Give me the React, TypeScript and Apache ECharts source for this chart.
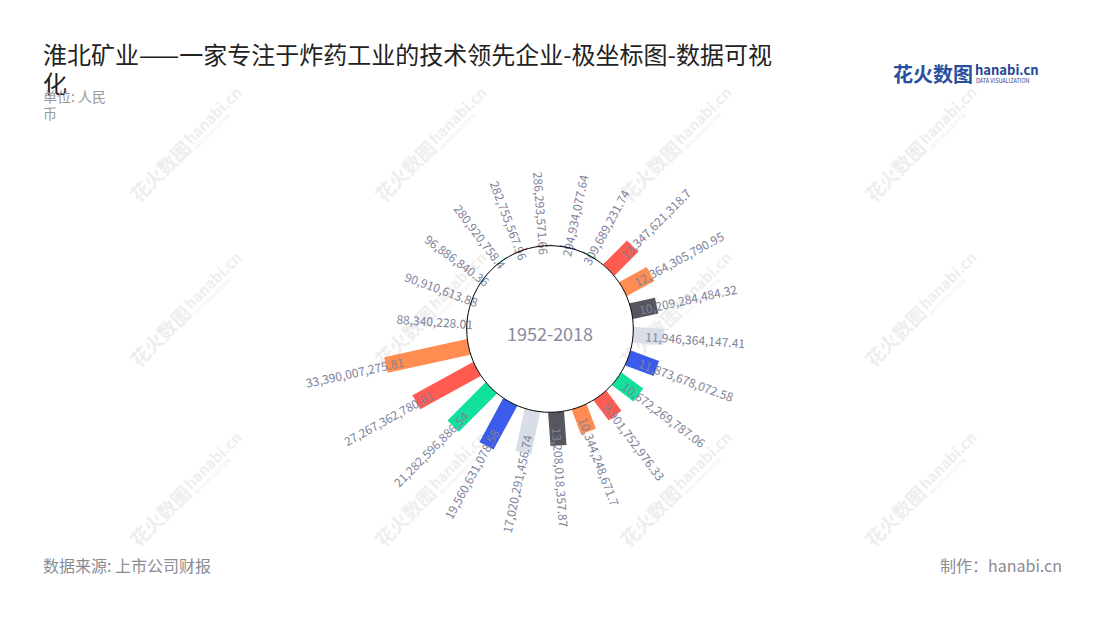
import React, { useEffect, useRef } from 'react';
import * as echarts from 'echarts';

const TITLE = '淮北矿业——一家专注于炸药工业的技术领先企业-极坐标图-数据可视化';
const SUBTITLE = '单位: 人民币';
const CENTER_LABEL = '1952-2018';
const SOURCE = '数据来源: 上市公司财报';
const AUTHOR = '制作：hanabi.cn';

const categories = [
  'c01', 'c02', 'c03', 'c04', 'c05', 'c06', 'c07', 'c08', 'c09', 'c10', 'c11',
  'c12', 'c13', 'c14', 'c15', 'c16', 'c17', 'c18', 'c19', 'c20', 'c21', 'c22',
];
const values = [
  294934077.64, 309689231.74, 13347621318.7, 12364305790.95, 10209284484.32,
  11946364147.41, 11873678072.58, 10672269787.06, 9901752976.33, 10344248671.7,
  13208018357.87, 17020291456.74, 19560631078.58, 21282596886.54, 27267362780.61,
  33390007275.81, 88340228.01, 90910613.88, 96886840.36, 280920758.4,
  282755567.96, 286293571.66,
];
const palette = ['#3B5BEB', '#12E19E', '#FF5B50', '#FF8C50', '#56565F', '#D9DDE7'];

const CX = 550;
const CY = 329;
const R0 = 83.3;
const R1 = 172;
const LABEL_COLOR = '#80829a';
const FONT = '"Noto Sans CJK SC", "Noto Sans", sans-serif';

const fmt = new Intl.NumberFormat('en-US', { maximumFractionDigits: 2 });

function watermark(x: number, y: number) {
  return {
    type: 'group',
    x,
    y,
    rotation: Math.PI / 4,
    silent: true,
    z: 0,
    children: [
      { type: 'text', x: -74, y: 0, style: { text: '花火数图', fontSize: 19, fontWeight: 'bold', fill: '#eeeeee', fontFamily: FONT, verticalAlign: 'middle' } },
      { type: 'text', x: 4, y: -2, style: { text: 'hanabi.cn', fontSize: 15, fontWeight: 'bold', fill: '#eeeeee', fontFamily: FONT, verticalAlign: 'middle' } },
      { type: 'text', x: 5, y: 9, style: { text: 'DATA VISUALIZATION', fontSize: 5, fill: '#eeeeee', fontFamily: FONT, verticalAlign: 'middle' } },
    ],
  };
}

export default function App() {
  const ref = useRef<HTMLDivElement>(null);
  useEffect(() => {
    if (!ref.current) return;
    const chart = echarts.init(ref.current, null, { renderer: 'svg' });
    const wmX = [185, 430, 675, 920];
    const wmY = [145, 310, 490];
    const marks: any[] = [];
    wmY.forEach((y) => wmX.forEach((x) => marks.push(watermark(x, y))));

    chart.setOption({
      animation: false,
      backgroundColor: '#fff',
      title: [
        {
          text: TITLE,
          left: 43,
          top: 39,
          padding: 0,
          textStyle: {
            fontSize: 24,
            fontWeight: 'normal',
            color: '#222',
            fontFamily: FONT,
            width: 745,
            overflow: 'break',
            lineHeight: 29,
          },
        },
        {
          text: SUBTITLE,
          left: 43,
          top: 87,
          padding: 0,
          textStyle: {
            fontSize: 14,
            fontWeight: 'normal',
            color: '#9a9a9a',
            fontFamily: FONT,
            width: 78,
            overflow: 'break',
            lineHeight: 17,
          },
        },
        {
          text: SOURCE,
          left: 43,
          top: 557,
          padding: 0,
          textStyle: { fontSize: 16, fontWeight: 'normal', color: '#8a8b93', fontFamily: FONT },
        },
        {
          text: AUTHOR,
          right: 38,
          top: 557,
          padding: 0,
          textStyle: { fontSize: 16, fontWeight: 'normal', color: '#8a8b93', fontFamily: FONT },
        },
      ],
      polar: { center: [CX, CY], radius: [R0, R1] },
      angleAxis: { type: 'category', data: categories, startAngle: 86, clockwise: true, show: false },
      radiusAxis: { type: 'value', min: 0, max: 35e9, show: false },
      graphic: [
        ...marks,
        {
          type: 'circle',
          shape: { cx: CX, cy: CY, r: R0 },
          style: { fill: 'transparent', stroke: '#000', lineWidth: 1 },
          silent: true,
          z: 50,
        },
        {
          type: 'text',
          x: CX,
          y: CY + 4,
          style: { text: CENTER_LABEL, fontSize: 18, fill: '#8a8b9e', fontFamily: FONT, align: 'center', verticalAlign: 'middle' },
          z: 51,
        },
        { type: 'text', x: 893, y: 73, style: { text: '花火数图', fontSize: 20, fontWeight: 'bold', fill: '#2a4f9e', fontFamily: FONT, verticalAlign: 'middle' }, z: 51 },
        { type: 'text', x: 975, y: 69, style: { text: 'hanabi.cn', fontSize: 13, fontWeight: 'bold', fill: '#1f4697', fontFamily: FONT, verticalAlign: 'middle' }, z: 51 },
        { type: 'text', x: 976, y: 81, style: { text: 'DATA VISUALIZATION', fontSize: 5.5, fill: '#1f4697', fontFamily: FONT, verticalAlign: 'middle' }, z: 51 },
      ],
      series: [
        {
          type: 'custom',
          coordinateSystem: 'polar',
          encode: { radius: 0, angle: 1 },
          data: values.map((v, i) => [v, i]),
          z: 5,
          renderItem: (params: any, api: any) => {
            const idx = params.dataIndex;
            const v = api.value(0);
            const cs = params.coordSys;
            const p0 = api.coord([0, idx]);
            const p1 = api.coord([v, idx]);
            let dx = p0[0] - cs.cx;
            let dy = p0[1] - cs.cy;
            const len = Math.hypot(dx, dy) || 1;
            dx /= len;
            dy /= len;
            const nx = -dy;
            const ny = dx;
            const hw = 8;
            const pts = [
              [p0[0] + nx * hw, p0[1] + ny * hw],
              [p1[0] + nx * hw, p1[1] + ny * hw],
              [p1[0] - nx * hw, p1[1] - ny * hw],
              [p0[0] - nx * hw, p0[1] - ny * hw],
            ];
            const lx = p1[0] + dx * 32;
            const ly = p1[1] + dy * 32;
            const ang = Math.atan2(-dy, dx);
            let rot = ang;
            if (dx < 0) rot = ang > 0 ? ang - Math.PI : ang + Math.PI;
            return {
              type: 'group',
              children: [
                {
                  type: 'polygon',
                  shape: { points: pts },
                  style: { fill: palette[idx % palette.length] },
                },
                {
                  type: 'text',
                  x: lx,
                  y: ly,
                  rotation: rot,
                  z2: 10,
                  style: {
                    text: fmt.format(values[idx]),
                    fontSize: 12,
                    fill: LABEL_COLOR,
                    fontFamily: FONT,
                    align: 'center',
                    verticalAlign: 'middle',
                  },
                },
              ],
            };
          },
        },
      ],
    });
    return () => chart.dispose();
  }, []);
  return (
    <div
      ref={ref}
      style={{ position: 'absolute', left: 0, top: 0, width: 1100, height: 620 }}
    />
  );
}
